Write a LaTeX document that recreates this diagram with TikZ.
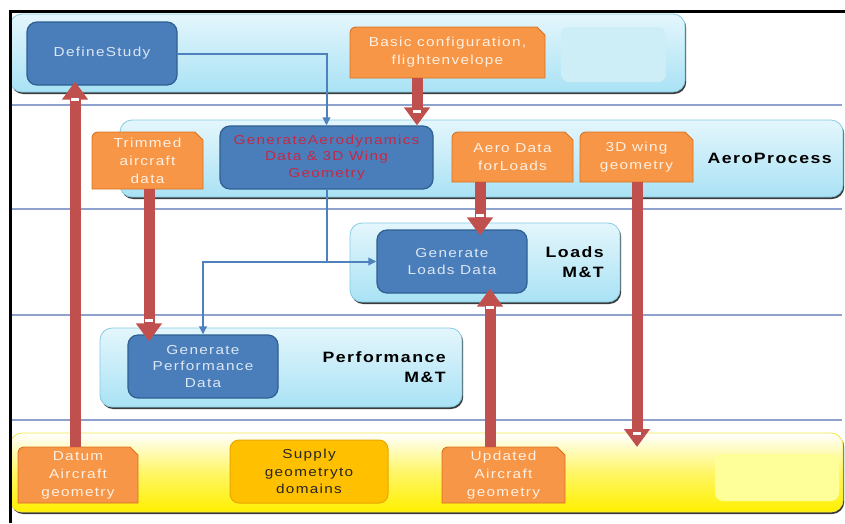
\documentclass[tikz,border=0pt]{standalone}
\usepackage{fontspec}
\setmainfont{Liberation Sans}[FakeStretch=1.18,LetterSpace=10]
\usetikzlibrary{arrows.meta,shadows,decorations.markings}

\definecolor{laneTop}{HTML}{E4F6FC}
\definecolor{laneBot}{HTML}{A9E2F5}
\definecolor{laneLine}{HTML}{86CBE4}
\definecolor{paleCyan}{HTML}{CDEEF6}
\definecolor{stepFill}{HTML}{4A7EBB}
\definecolor{stepLine}{HTML}{2F5E91}
\definecolor{stepText}{HTML}{DCE6F2}
\definecolor{tagFill}{HTML}{F79646}
\definecolor{tagLine}{HTML}{D9731F}
\definecolor{tagText}{HTML}{FFF0E4}
\definecolor{goldFill}{HTML}{FFC000}
\definecolor{goldLine}{HTML}{E8A600}
\definecolor{flowRed}{HTML}{C0504D}
\definecolor{flowBlue}{HTML}{4F81BD}
\definecolor{ruleBlue}{HTML}{8FA2CE}
\definecolor{aeroRed}{HTML}{C22A48}
\definecolor{yelBot}{HTML}{FFF000}
\definecolor{yelLine}{HTML}{F2E646}
\definecolor{paleYel}{HTML}{FFFF99}

% orange data tag: rounded top-left corner, snipped top-right corner
\newcommand\tagbox[6]{%
  \filldraw[fill=tagFill, draw=tagLine, line width=0.9pt]
    (#2,#5) -- (#2,#3+6) .. controls (#2,#3+2.7) and (#2+2.7,#3) .. (#2+6,#3)
    -- (#4-8,#3) -- (#4,#3+8) -- (#4,#5) -- cycle;
  \node[tagtext, minimum width={(#4-#2)*1pt}, minimum height={(#5-#3)*1pt}]
    (#1) at ({(#2+#4)/2},{(#3+#5)/2}) {#6};}

\begin{document}
\begin{tikzpicture}[x=1pt,y=-1pt,
  lane/.style={draw=laneLine, line width=0.8pt, rounded corners=12pt,
    top color=laneTop, bottom color=laneBot, inner sep=0pt,
    drop shadow={shadow xshift=1.2pt, shadow yshift=-2pt, fill=black!85, opacity=0.9}},
  geomlanestyle/.style={draw=yelLine, line width=0.8pt, rounded corners=12pt,
    top color=white, bottom color=yelBot, middle color=white!40!yelBot, inner sep=0pt,
    drop shadow={shadow xshift=1.2pt, shadow yshift=-2pt, fill=black!85, opacity=0.9}},
  stepbox/.style={draw=stepLine, line width=1.2pt, fill=stepFill, rounded corners=10pt,
    inner sep=0pt, align=center, text=stepText,
    font=\fontsize{13}{16.5}\selectfont},
  tagtext/.style={inner sep=0pt, align=center, text=tagText,
    font=\fontsize{13}{18}\selectfont},
  palebox/.style={rounded corners=8pt, inner sep=0pt},
  lanelabel/.style={inner sep=0pt, align=right, font=\fontsize{15}{20}\selectfont\bfseries},
  rulestyle/.style={draw=ruleBlue, line width=1.2pt},
  link/.style={draw=flowBlue, line width=2pt, -{Triangle[length=8pt,width=7.5pt]}},
  flow/.style={draw=flowRed, line width=11pt, -{Triangle[length=18pt,width=25pt]},
    postaction={decorate},
    decoration={markings, mark=at position -14pt with
      {\fill[white] (-1.5pt,-4pt) rectangle (1.5pt,4pt);}}}
]
\useasboundingbox (0,0) rectangle (845,523);

% swim-lane separators
\draw[rulestyle] (10,105) -- (842,105);
\draw[rulestyle] (10,209) -- (842,209);
\draw[rulestyle] (10,315) -- (842,315);
\draw[rulestyle] (10,420) -- (842,420);

% lanes
\node[lane, minimum width=675pt, minimum height=78pt] (studylane) at (347.5,53) {};
\node[lane, minimum width=723pt, minimum height=77pt] (aerolane) at (481.5,158.5) {};
\node[lane, minimum width=270pt, minimum height=79pt] (loadslane) at (485,262.5) {};
\node[lane, minimum width=362pt, minimum height=79pt] (perflane) at (281,367.5) {};
\node[geomlanestyle, minimum width=833pt, minimum height=79pt] (geomlane) at (426.5,472.5) {};

% empty placeholders
\node[palebox, fill=paleCyan, minimum width=105pt, minimum height=55pt] (studyslot) at (613.5,54.5) {};
\node[palebox, fill=paleYel, minimum width=124pt, minimum height=47pt] (geomslot) at (777,477.5) {};

% process steps
\node[stepbox, minimum width=150pt, minimum height=63pt] (define) at (102,53.5) {DefineStudy};
\node[stepbox, minimum width=213pt, minimum height=63pt, text=aeroRed] (genaero) at (326.5,157.5)
  {GenerateAerodynamics\\Data \& 3D Wing\\Geometry};
\node[stepbox, minimum width=150pt, minimum height=63pt] (genloads) at (452,261.5) {Generate\\Loads Data};
\node[stepbox, minimum width=150pt, minimum height=63pt] (genperf) at (203,366.5)
  {Generate\\Performance\\Data};
\node[draw=goldLine, line width=1pt, fill=goldFill, rounded corners=9pt, inner sep=0pt,
  minimum width=158pt, minimum height=63pt, align=center, text=black!85,
  font=\fontsize{13}{17.5}\selectfont] (supply) at (309,471.5) {Supply\\geometryto\\domains};

% data tags
\tagbox{basic}{350}{27}{545}{78}{Basic configuration,\\flightenvelope}
\tagbox{trimmed}{92}{132}{203}{189}{Trimmed\\aircraft\\data}
\tagbox{aerodata}{452}{132}{573}{182}{Aero Data\\forLoads}
\tagbox{wing}{580}{132}{693}{182}{3D wing\\geometry}
\tagbox{datum}{18}{447}{138}{503}{Datum\\Aircraft\\geometry}
\tagbox{updated}{442}{447}{565}{503}{Updated\\Aircraft\\geometry}

% lane titles
\node[lanelabel, anchor=east] (aerotitle) at (832,158) {AeroProcess};
\node[lanelabel, anchor=east] (loadstitle) at (604,262) {Loads\\M\&T};
\node[lanelabel, anchor=east] (perftitle) at (446,367) {Performance\\M\&T};

% control flow
\draw[link] (define.east) -| (genaero.north);
\draw[link] (genaero.south) |- (genloads.west);
\draw[link] (genaero.south |- genloads.west) -| (genperf.north);

% data flow
\coordinate (xa) at (75,0);
\coordinate (xb) at (417,0);
\coordinate (xc) at (149,0);
\coordinate (xd) at (480,0);
\coordinate (xe) at (490,0);
\coordinate (wingend) at (637,447);
\draw[flow, shorten >=-4pt] (datum.north -| xa) -- (define.south -| xa);
\draw[flow] (basic.south -| xb) -- (genaero.north -| xb);
\draw[flow, shorten >=-7pt] (trimmed.south -| xc) -- (genperf.north -| xc);
\draw[flow, shorten >=-6pt] (aerodata.south -| xd) -- (genloads.north -| xd);
\draw[flow, shorten >=-5pt] (updated.north -| xe) -- (genloads.south -| xe);
\draw[flow] (wing.south -| wingend) -- (wingend);

% frame
\draw[line width=3pt] (845,11) -- (10,11) -- (10,523);
\end{tikzpicture}
\end{document}
